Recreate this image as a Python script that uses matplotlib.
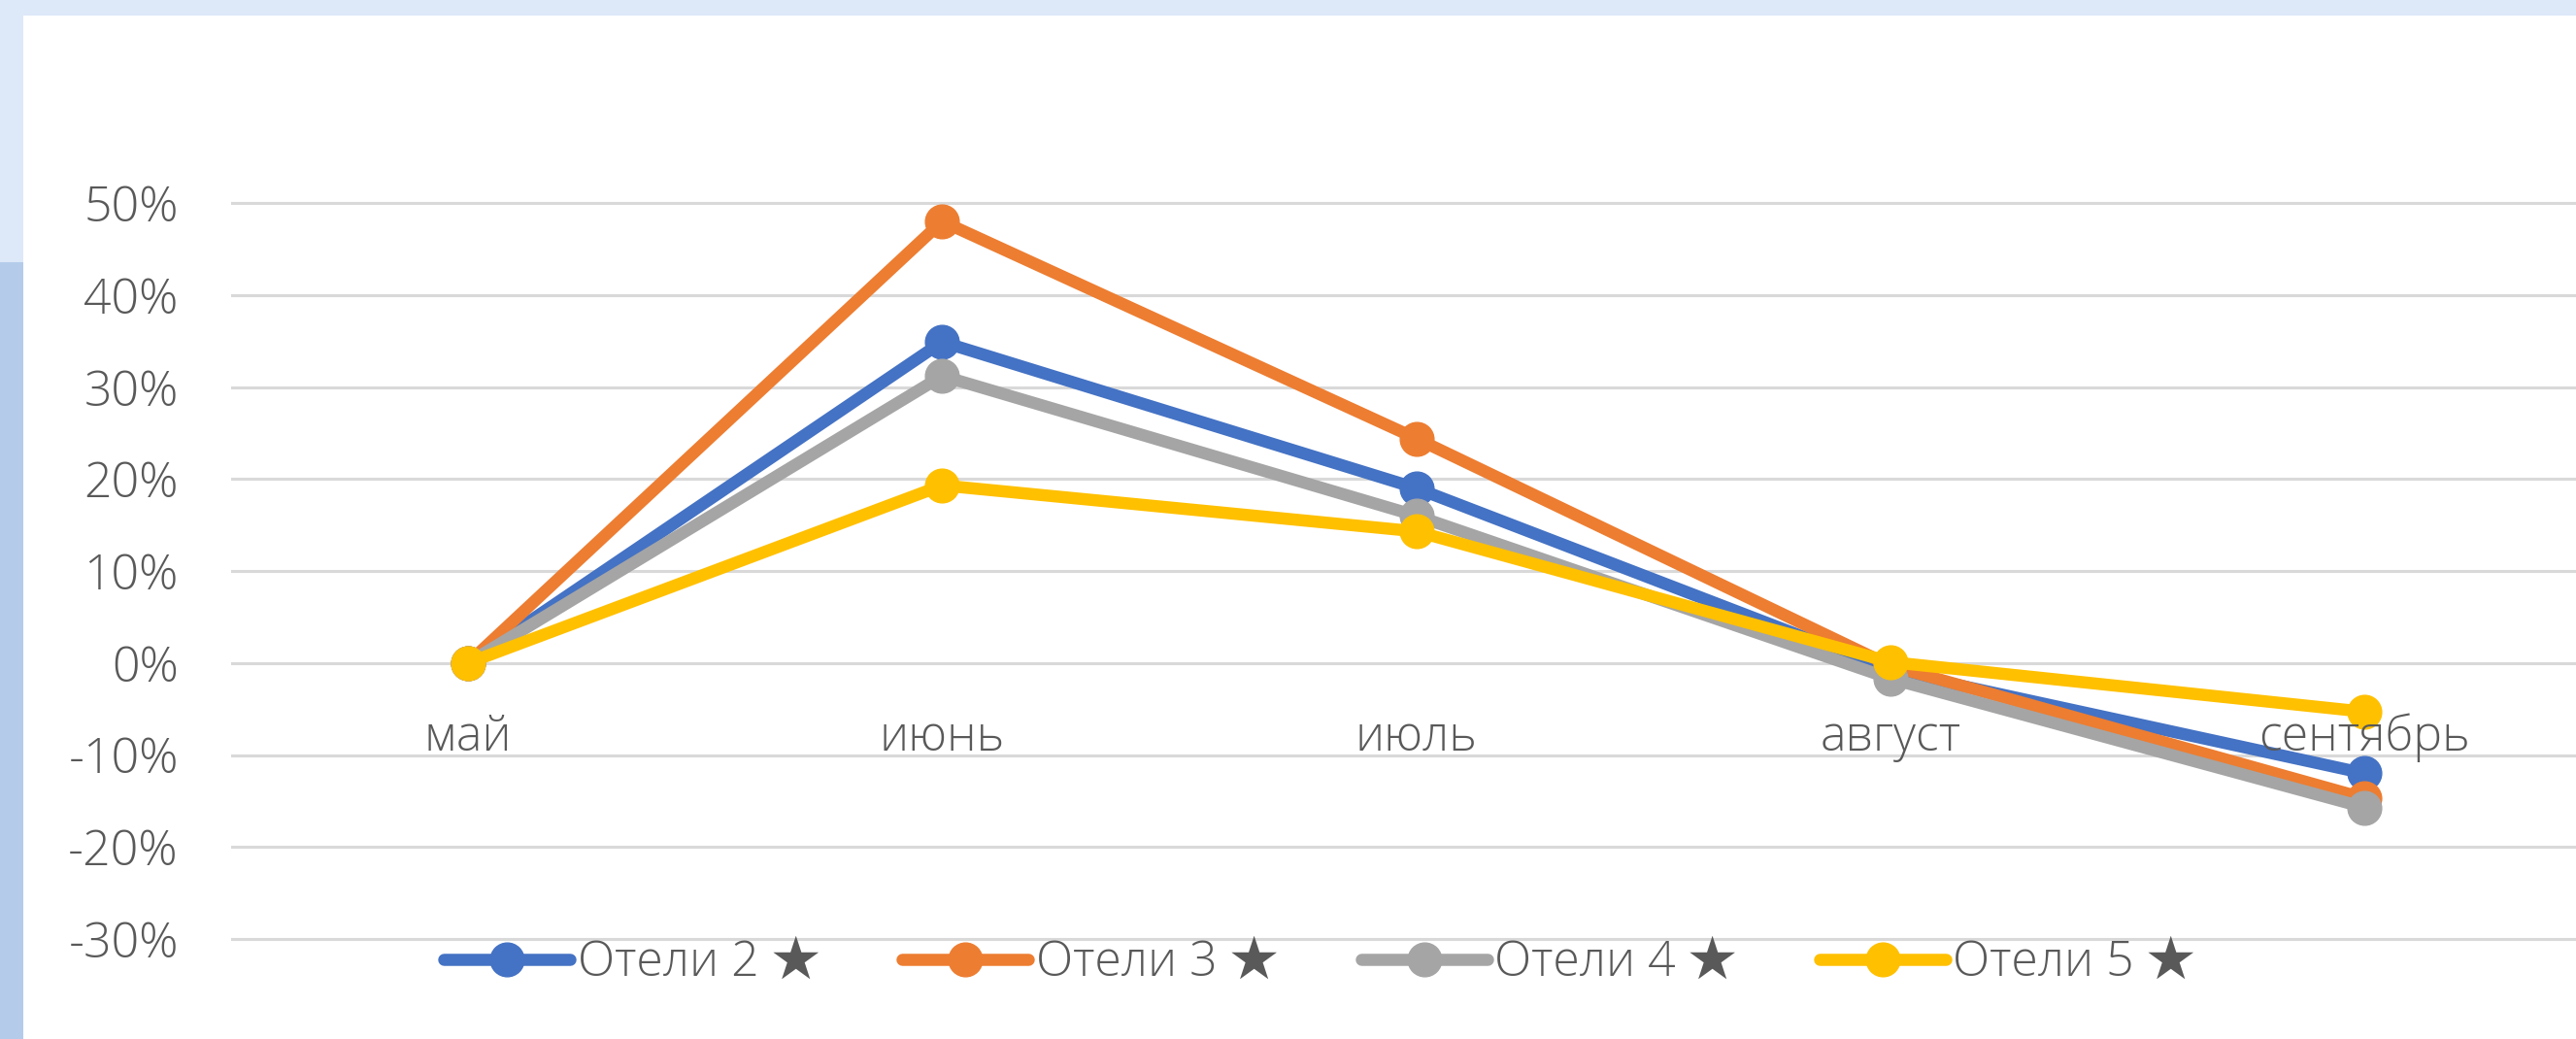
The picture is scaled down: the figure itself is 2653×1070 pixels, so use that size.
import numpy as np
import matplotlib
matplotlib.use('Agg')
import matplotlib.pyplot as plt
from matplotlib.patches import Rectangle

# data
months = ['май', 'июнь', 'июль', 'август', 'сентябрь']
series_names = ['Отели 2 ★', 'Отели 3 ★', 'Отели 4 ★', 'Отели 5 ★']
hotels_2 = [0.0, 0.349, 0.190, -0.008, -0.120]
hotels_3 = [0.0, 0.480, 0.244, -0.003, -0.147]
hotels_4 = [0.0, 0.312, 0.160, -0.017, -0.157]
hotels_5 = [0.0, 0.193, 0.143, 0.001, -0.053]
y_ticks = [-0.3, -0.2, -0.1, 0.0, 0.1, 0.2, 0.3, 0.4, 0.5]
y_tick_labels = ['-30%', '-20%', '-10%', '0%', '10%', '20%', '30%', '40%', '50%']

colors = ['#4472C4', '#ED7D31', '#A5A5A5', '#FFC000']
text_color = '#595959'

plt.rcParams['font.family'] = ['Open Sans', 'Noto Sans CJK SC', 'DejaVu Sans']
plt.rcParams['font.weight'] = 'light'

W, H = 2653, 1070
fig = plt.figure(figsize=(W / 100, H / 100), dpi=100)
fig.patch.set_facecolor('#DDE8F8')
# slide background pieces
fig.patches.append(Rectangle((0, 0), 24 / W, (H - 270) / H, transform=fig.transFigure,
                             facecolor='#B4CCEA', edgecolor='none', zorder=-2))
fig.patches.append(Rectangle((24 / W, 0), 1, (H - 16) / H, transform=fig.transFigure,
                             facecolor='white', edgecolor='none', zorder=-2))

# plot area in pixels
px_left, px_right = 238, 238 + 5 * 488.25
py_top, py_bottom = 209, 967
pad = 0.004
px_per_unit = (py_bottom - py_top) / 0.8
ax = fig.add_axes([px_left / W, (H - py_bottom - pad * px_per_unit) / H,
                   (px_right - px_left) / W, (py_bottom - py_top + 2 * pad * px_per_unit) / H])
ax.set_zorder(1)
ax.set_facecolor('none')
ax.set_xlim(-0.5, len(months) - 0.5)
ax.set_ylim(-0.3 - pad, 0.5 + pad)

ax.set_yticks(y_ticks)
ax.set_yticklabels(y_tick_labels)
ax.tick_params(axis='y', length=0, pad=39, labelsize=36, labelcolor=text_color)
ax.set_xticks([])
ax.yaxis.grid(True, color='#D9D9D9', linewidth=2.2)
ax.set_axisbelow(True)
for s in ax.spines.values():
    s.set_visible(False)

x = np.arange(len(months))
all_series = [hotels_2, hotels_3, hotels_4, hotels_5]
handles = []
for vals, name, c in zip(all_series, series_names, colors):
    ln, = ax.plot(x, vals, color=c, linewidth=9, marker='o', markersize=25,
                  solid_capstyle='round', label=name, zorder=3)
    handles.append(ln)

# category labels sit just under the zero line (Excel style)
for i, m in enumerate(months):
    ax.annotate(m, (i, 0), xytext=(0, -65), textcoords='offset points',
                ha='center', va='baseline', fontsize=36, color=text_color,
                annotation_clip=False, zorder=4)

leg = fig.legend(handles=handles, loc='center', bbox_to_anchor=(1359 / W, 78 / H),
                 ncol=4, frameon=False, fontsize=36, handlelength=2.6,
                 handletextpad=0.15, columnspacing=1.7, labelcolor=text_color,
                 borderpad=0, borderaxespad=0)

fig.savefig('out.png', dpi=100, facecolor=fig.get_facecolor())
